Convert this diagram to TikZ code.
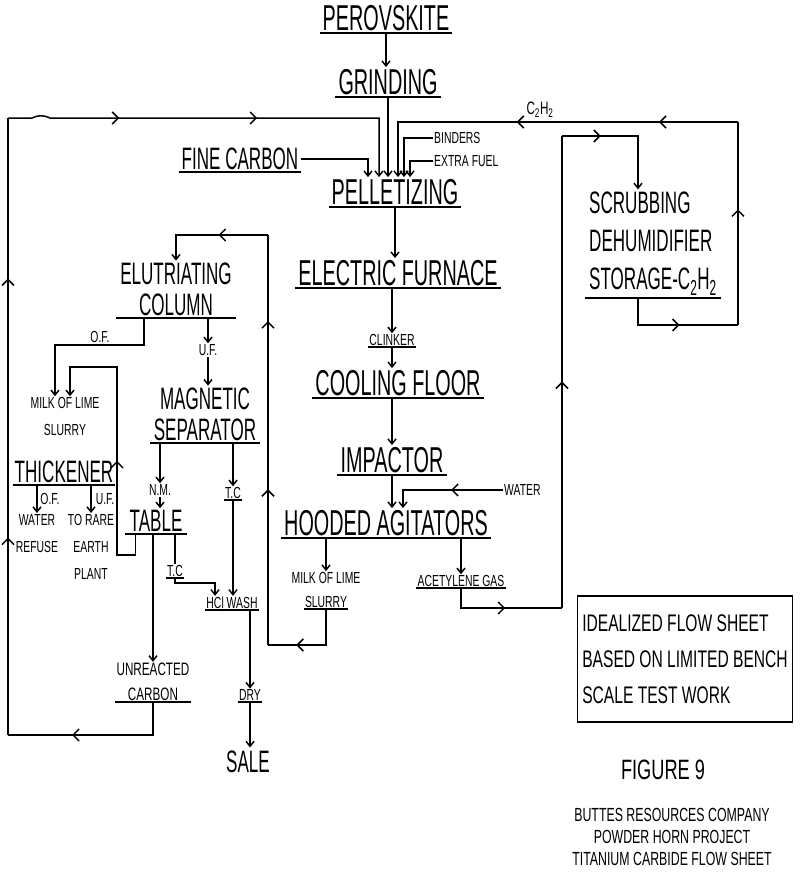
\documentclass[tikz,border=0pt]{standalone}
\usepackage{fontspec}
\usepackage{tikz}
\usetikzlibrary{arrows.meta,positioning,calc,decorations.markings}
\newfontfamily\handfont{Liberation Sans}[FakeStretch=0.55]
\newfontfamily\tagfont{Liberation Sans}[FakeStretch=0.65]
\newcommand\stagesz{\handfont\fontsize{36}{38}\selectfont}
\newcommand\unitsz{\handfont\fontsize{31}{31}\selectfont}
\newcommand\scrubsz{\handfont\fontsize{31}{38}\selectfont}
\newcommand\tagsz{\tagfont\fontsize{16}{27}\selectfont}
\newcommand\notesz{\tagfont\fontsize{24}{36}\selectfont}
\newcommand\figsz{\tagfont\fontsize{28}{30}\selectfont}
\newcommand\creditsz{\tagfont\fontsize{19}{22}\selectfont}
\newcommand\carbsz{\tagfont\fontsize{18}{25}\selectfont}

\begin{document}
\begin{tikzpicture}[x=1pt,y=-1pt,
 ink/.style={line width=1.5pt},
 flow/.style={ink,-{Straight Barb[length=5pt,width=8pt]}},
 chev/.style={postaction={decorate,decoration={markings,mark=at position #1 with {\arrow{Straight Barb[length=6pt,width=12pt]}}}}},
 ul/.style={append after command={\pgfextra{\draw[line width=2pt] (\tikzlastnode.south west)--(\tikzlastnode.south east);}}},
 stagebox/.style={font=\stagesz,anchor=south,inner xsep=3pt,inner ysep=2pt,ul},
 unitbox/.style={font=\unitsz,align=center,anchor=south,inner xsep=4pt,inner ysep=2pt,ul},
 tagtext/.style={font=\tagsz,align=center,inner sep=1pt}]
\useasboundingbox (0,0) rectangle (800,886);

\node[stagebox] (perov) at (386,33) {PEROVSKITE};
\node[stagebox] (grind) at (388,97) {GRINDING};
\node[stagebox,font=\unitsz] (fine) at (240,172) {FINE CARBON};
\node[stagebox] (pellet) at (395,207) {PELLETIZING};
\node[stagebox] (furnace) at (398,288) {ELECTRIC FURNACE};
\node[tagtext,anchor=south,ul] (clinker) at (392,347) {CLINKER};
\node[stagebox] (cooling) at (398,398) {COOLING FLOOR};
\node[stagebox] (impactor) at (392,475) {IMPACTOR};
\node[stagebox] (hooded) at (386,538) {HOODED AGITATORS};
\node[tagtext] (mlime) at (326,578) {MILK OF LIME};
\node[tagtext,anchor=south,ul] (slurry) at (326,609) {SLURRY};
\node[tagtext,anchor=south,ul] (acet) at (461,588) {ACETYLENE GAS};
\node[tagtext,anchor=west] (binders) at (433,138) {BINDERS};
\node[tagtext,anchor=west] (fuel) at (433,161) {EXTRA FUEL};
\node[tagtext,anchor=west] (water) at (503,490) {WATER};
\node[tagtext,font=\carbsz] (gas) at (540,110) {C\textsubscript{2}H\textsubscript{2}};
\node[unitbox,font=\scrubsz,align=left,anchor=south west] (scrub) at (585,298) {SCRUBBING\\DEHUMIDIFIER\\STORAGE-C\textsubscript{2}H\textsubscript{2}};

\node[unitbox] (elut) at (176,318) {ELUTRIATING\\COLUMN};
\node[tagtext] (of1) at (100,337) {O.F.};
\node[tagtext] (uf1) at (208,350) {U.F.};
\node[unitbox] (mag) at (205,443) {MAGNETIC\\SEPARATOR};
\node[tagtext,anchor=south] (mlthk) at (65,437) {MILK OF LIME\\SLURRY};
\node[unitbox,inner xsep=2pt] (thick) at (64,485) {THICKENER};
\node[tagtext] (of2) at (50,499) {O.F.};
\node[tagtext] (uf2) at (105,499) {U.F.};
\node[tagtext,anchor=north] (refuse) at (37,513) {WATER\\REFUSE};
\node[tagtext,anchor=north] (rare) at (91,513) {TO RARE\\EARTH\\PLANT};
\node[tagtext] (nm) at (160,490) {N.M.};
\node[unitbox] (table) at (156,534) {TABLE};
\node[tagtext,anchor=south,ul] (tc1) at (233,500) {T.C};
\node[tagtext,anchor=south,ul] (tc2) at (175,578) {T.C};
\node[tagtext,anchor=south,ul] (hcl) at (232,610) {HCl WASH};
\node[tagtext,font=\carbsz,anchor=south,ul] (unreact) at (153,702) {UNREACTED\\CARBON};
\node[tagtext,anchor=south,ul] (dry) at (250,702) {DRY};
\node[font=\unitsz] (sale) at (248,762) {SALE};

\node[draw,ink,font=\notesz,align=left,minimum width=215pt,minimum height=126pt] (note) at (685,659) {IDEALIZED FLOW SHEET\\BASED ON LIMITED BENCH\\SCALE TEST WORK};
\node[font=\figsz] (fig) at (663,770) {FIGURE 9};
\node[font=\creditsz,align=center] (credit) at (672,837) {BUTTES RESOURCES COMPANY\\POWDER HORN PROJECT\\TITANIUM CARBIDE FLOW SHEET};

\coordinate (rbot) at (8,735);
\coordinate (rtop) at (8,118);
\coordinate (sout) at ($(scrub.south west)+(53,0)$);
\coordinate (rloopb) at (738,325);
\coordinate (rloopt) at (738,122);
\coordinate (acbot) at (562,608);
\coordinate (actop) at (562,136);
\coordinate (retb) at (268,645);
\coordinate (rett) at (268,235);
\coordinate (ofout) at ($(elut.south west)+(28,0)$);
\coordinate (tabl) at ($(table.south west)+(10,0)$);
\coordinate (thkfeed) at (117,367);

\draw[flow] (perov.south) -- (perov.south |- grind.north);
\draw[flow] (grind.south) -- (grind.south |- pellet.north);
\draw[flow] (fine.east) -| ($(pellet.north)+(-27,0)$);
\draw[flow] (binders.west) -| ($(pellet.north)+(9,0)$);
\draw[flow] (fuel.west) -| ($(pellet.north)+(15,0)$);
\draw[flow] (pellet.south) -- (pellet.south |- furnace.north);
\draw[flow] (clinker.north |- furnace.south) -- (clinker.north);
\draw[flow] (clinker.south) -- (clinker.south |- cooling.north);
\draw[flow] (impactor.north |- cooling.south) -- (impactor.north);
\draw[flow] (impactor.south) -- (impactor.south |- hooded.north);
\draw[flow,chev=0.44] (water.west) -| ($(hooded.north)+(17,0)$);
\draw[flow] (hooded.south -| mlime.north) -- (mlime.north);
\draw[flow] (hooded.south -| acet.north) -- (acet.north);

\draw[ink,chev=0.64] (unreact.south) |- (rbot);
\draw[ink,chev=0.32,chev=0.74] (rbot) -- (rtop);
\draw[flow,chev=0.26,chev=0.58] (rtop) -- (32,118) .. controls (38,115) and (44,115) .. (50,118) -| ($(pellet.north)+(-16,0)$);

\draw[ink,chev=0.54] (sout) |- (rloopb);
\draw[ink,chev=0.57] (rloopb) -- (rloopt);
\draw[flow,chev=0.2,chev=0.56] (rloopt) -| ($(pellet.north)+(3,0)$);

\draw[ink,chev=0.53] (acet.south) |- (acbot);
\draw[ink,chev=0.48] (acbot) -- (actop);
\draw[flow,chev=0.3] (actop) -| (sout |- scrub.north);

\draw[ink,chev=0.7] (slurry.south) |- (retb);
\draw[ink,chev=0.38,chev=0.79] (retb) -- (rett);
\draw[flow,chev=0.42] (rett) -| (elut.north);

\draw[flow] (ofout) -- ++(0,27) -| ($(mlthk.north)+(-10,0)$);
\draw[flow] (elut.south -| uf1.north) -- (uf1.north);
\draw[flow] (uf1.south) -- (uf1.south |- mag.north);
\draw[flow] (mag.south -| nm.north) -- (nm.north);
\draw[flow] (nm.south) -- (nm.south |- table.north);
\draw[flow] (mag.south -| tc1.north) -- (tc1.north);
\draw[flow] (tc1.south) -- (tc1.south |- hcl.north);
\draw[flow] (thick.south -| refuse.north) -- (refuse.north);
\draw[flow] (thick.south -| rare.north) -- (rare.north);

\draw[flow,chev=0.44] (tabl) -- ++(0,21) -| (thkfeed) -| ($(mlthk.north)+(5,0)$);
\draw[ink] (table.south -| tc2.north) -- (tc2.north);
\draw[flow] (tc2.south) -- ++(0,5) -| ($(hcl.north)+(-17,0)$);
\draw[flow] (unreact.north |- table.south) -- (unreact.north);
\draw[flow] (hcl.south -| dry.north) -- (dry.north);
\draw[flow] (dry.south) -- (dry.south |- sale.north);
\end{tikzpicture}
\end{document}
